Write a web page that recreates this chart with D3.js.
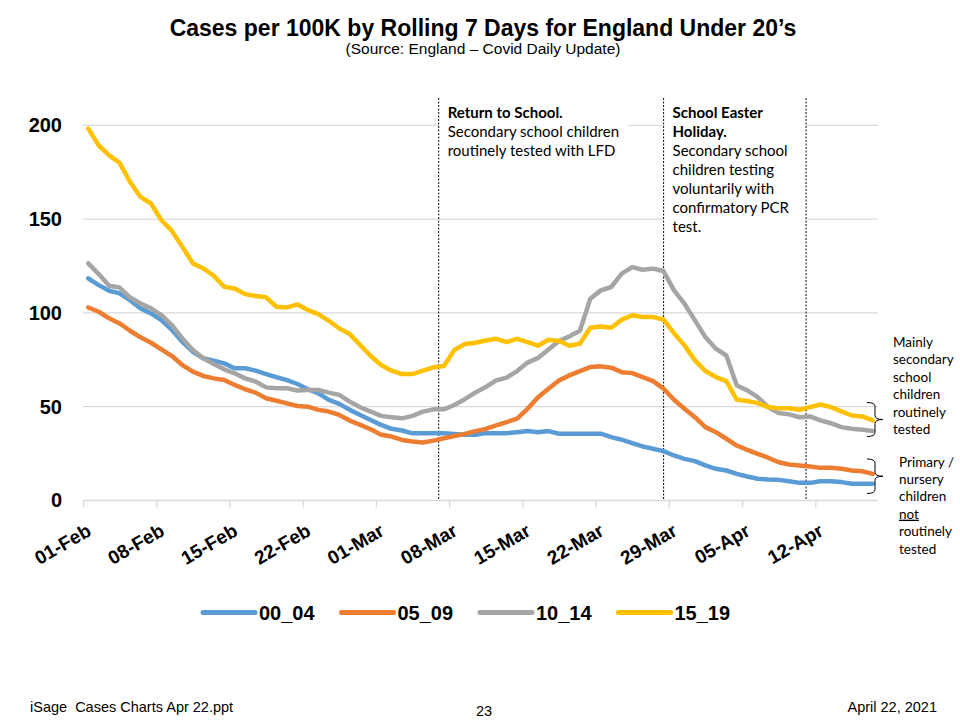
<!DOCTYPE html>
<html><head><meta charset="utf-8">
<script src="https://cdn.jsdelivr.net/npm/d3@7"></script>
<style>body{margin:0;background:#fff}svg{display:block}</style>
</head><body>
<svg id="chart" width="960" height="720"></svg>
<script>
// ---------- DATA ----------
const startDate = "2021-02-01";
const seriesNames = ["00_04", "05_09", "10_14", "15_19"];
const s00_04 = [118.4,114.8,111.8,110.4,106.8,102.4,99.7,96.2,90.9,84.6,79.3,75.8,74.5,73.1,70.5,70.5,69.2,67.4,65.7,64.2,62.1,59.3,57.1,53.6,51.5,48.3,45.6,42.9,40.3,38.2,37.3,35.8,35.8,35.8,35.8,35.5,35,35,35.9,35.9,35.9,36.4,37,36.4,37,35.6,35.6,35.6,35.6,35.6,33.8,32.4,30.6,28.8,27.6,26.3,24,22.2,21,18.7,16.9,16,14.2,12.8,11.6,11.2,11,10.3,9.4,9.4,10.3,10.3,9.8,8.9,8.9,8.9];
const s05_09 = [102.9,100.6,97.1,94.4,90.5,87,84.1,80.6,77,72.2,68.7,66.4,65.1,64.2,61.6,59.3,57.5,54.5,53.2,51.8,50.4,50,48.3,47.4,45.6,42.6,40.3,38,35,34.1,32.3,31.4,30.9,31.9,33.2,34.4,35.5,37,38.2,40,41.8,43.6,48.9,55.1,59.6,64,66.7,69,71.1,71.5,70.8,68.4,67.9,65.8,63.6,59.6,53.7,48.9,44.4,39.1,36.4,32.9,29.3,27,24.9,22.8,20.4,19.2,18.7,18.1,17.4,17.4,16.9,16,15.6,14.2];
const s10_14 = [126.4,120.7,114.5,113.5,108.2,105,102.4,98.8,93.5,86.4,80.2,75.8,72.8,69.9,67.8,65.1,63.4,60.3,59.8,59.8,58.6,58.9,58.9,57.5,56.3,52.7,49.7,47.4,45.1,44.4,43.8,45.1,47.4,48.6,48.6,50.9,54,57.5,60.5,64,65.5,69,73.5,76,80.5,85,87.5,90.5,107.6,112,113.8,120.9,124.4,123,123.6,122.3,112,104.9,96,87.1,80.9,77.3,61.3,58.7,55.1,49.8,46.6,45.9,44.4,44.8,42.7,41.2,39.1,38.2,37.7,37];
const s15_19 = [198.2,189.3,184,180,169.8,161.8,158.3,149.4,143.7,135.2,126.4,123.7,119.8,113.9,113,110,109,108.3,103.3,102.9,104.5,101.5,99.4,95.8,91.7,88.7,82.9,77,72.2,69.2,67.4,67.4,69.2,71,71.7,80.2,83.4,84.1,85.3,86.2,84.4,86.2,84.4,82.5,85.7,85,82.5,83.6,92.1,92.8,92.1,96.4,98.7,97.8,97.8,96.4,89.2,82.7,74.7,69,65.8,63.6,53.7,53,51.9,49.8,49.2,49.2,48.4,49.8,51.2,49.8,47.5,45.3,44.8,42.7];
const tickLabels = ["01-Feb","08-Feb","15-Feb","22-Feb","01-Mar","08-Mar","15-Mar","22-Mar","29-Mar","05-Apr","12-Apr"];
const yTicks = [0, 50, 100, 150, 200];
const eventDates = ["2021-03-07T00:00", "2021-03-28T12:00", "2021-04-11T03:00"];
const annot1 = ["Return to School.", "Secondary school children", "routinely tested with LFD"];
const annot2 = ["School Easter", "Holiday.", "Secondary school", "children testing", "voluntarily with", "confirmatory PCR", "test."];
const sideNote1 = ["Mainly", "secondary", "school", "children", "routinely", "tested"];
const sideNote2 = ["Primary /", "nursery", "children", "not", "routinely", "tested"];

// ---------- STYLE ----------
const colors = ["#5B9BD5", "#ED7D31", "#A5A5A5", "#FFC000"];
const series = [s00_04, s05_09, s10_14, s15_19];

const svg = d3.select("#chart");
const parse = d3.timeParse("%Y-%m-%d");
const parseT = d3.timeParse("%Y-%m-%dT%H:%M");
const t0 = parse(startDate);
const nDays = s00_04.length;
const dayAt = i => d3.timeHour.offset(d3.timeDay.offset(t0, i), 12);

const x = d3.scaleTime().domain([t0, d3.timeDay.offset(t0, nDays)]).range([83, 878]);
const y = d3.scaleLinear().domain([0, 200]).range([500.5, 125.3]);

// title
svg.append("text").attr("x", 483).attr("y", 36).attr("text-anchor", "middle")
  .style("font", "bold 23px 'Liberation Sans', Arial, sans-serif").text("Cases per 100K by Rolling 7 Days for England Under 20’s");
svg.append("text").attr("x", 483).attr("y", 54).attr("text-anchor", "middle")
  .style("font", "15.5px 'Liberation Sans', Arial, sans-serif").text("(Source: England – Covid Daily Update)");

// gridlines
svg.append("g").selectAll("line").data(yTicks.filter(v => v > 0)).join("line")
  .attr("x1", x.range()[0]).attr("x2", x.range()[1])
  .attr("y1", d => y(d)).attr("y2", d => y(d))
  .attr("stroke", "#d9d9d9").attr("stroke-width", 1.3);

// y axis labels
const yAxis = d3.axisLeft(y).tickValues(yTicks).tickSize(0).tickPadding(0);
const gy = svg.append("g").attr("transform", "translate(62,0)").call(yAxis);
gy.select(".domain").remove();
gy.selectAll("text").style("font", "bold 20px 'Liberation Sans', Arial, sans-serif").attr("fill", "#000");

// x axis
const tickDates = tickLabels.map((_, i) => d3.timeDay.offset(t0, i * 7));
const xAxis = d3.axisBottom(x).tickValues(tickDates).tickSize(7).tickFormat((d, i) => tickLabels[i]);
const gx = svg.append("g").attr("transform", "translate(0,500.5)").call(xAxis);
gx.select(".domain").attr("stroke", "#d9d9d9").attr("stroke-width", 1.3).attr("d", `M${x.range()[0]},0H${x.range()[1]}`);
gx.selectAll(".tick line").attr("stroke", "#d9d9d9").attr("stroke-width", 1.3);
gx.selectAll(".tick text")
  .style("font", "bold 19px 'Liberation Sans', Arial, sans-serif").attr("fill", "#000")
  .attr("text-anchor", "end").attr("y", 0).attr("dy", 0)
  .attr("transform", "translate(9,34) rotate(-30)");

// white annotation boxes
svg.append("rect").attr("x", x(parseT(eventDates[0]))).attr("y", 98).attr("width", 190).attr("height", 66).attr("fill", "#fff");
svg.append("rect").attr("x", x(parseT(eventDates[1]))).attr("y", 98).attr("width", x(parseT(eventDates[2])) - x(parseT(eventDates[1]))).attr("height", 143).attr("fill", "#fff");

// event lines
svg.append("g").selectAll("line").data(eventDates).join("line")
  .attr("x1", d => x(parseT(d))).attr("x2", d => x(parseT(d)))
  .attr("y1", 98).attr("y2", 500)
  .attr("stroke", "#222").attr("stroke-width", 1.1).attr("stroke-dasharray", "2,1.5");

// series lines
const line = d3.line().x((d, i) => x(dayAt(i))).y(d => y(d));
svg.append("g").selectAll("path").data(series).join("path")
  .attr("d", line).attr("fill", "none")
  .attr("stroke", (d, i) => colors[i]).attr("stroke-width", 4.5)
  .attr("stroke-linejoin", "round").attr("stroke-linecap", "round");

// annotations
const annFont = "15px Lato, 'Open Sans', sans-serif";
function block(lines, x0, y0, dy, boldCount, font) {
  const t = svg.append("text").style("font", font).attr("fill", "#000");
  lines.forEach((s, i) => {
    t.append("tspan").attr("x", x0).attr("y", y0 + i * dy).text(s)
      .style("font-weight", i < boldCount ? "bold" : "normal");
  });
  return t;
}
block(annot1, x(parseT(eventDates[0])) + 9, 117.5, 19, 1, annFont);
block(annot2, x(parseT(eventDates[1])) + 9, 117.5, 19, 2, annFont);
block(sideNote1, 893, 346.5, 17.5, 0, "13.5px Lato, 'Open Sans', sans-serif");
const sn2 = block(sideNote2, 899, 466.5, 17.4, 0, "13.5px Lato, 'Open Sans', sans-serif");
sn2.selectAll("tspan").filter((d, i) => i === 3).style("text-decoration", "underline");

// braces
function brace(x0, y0, y1) {
  const xm = x0 + 8, xt = x0 + 16, ym = (y0 + y1) / 2, r = 4;
  return `M${x0},${y0}Q${xm},${y0} ${xm},${y0 + r}L${xm},${ym - r}Q${xm},${ym} ${xt},${ym}Q${xm},${ym} ${xm},${ym + r}L${xm},${y1 - r}Q${xm},${y1} ${x0},${y1}`;
}
svg.append("path").attr("d", brace(867, 402.5, 436.5)).attr("fill", "none").attr("stroke", "#000").attr("stroke-width", 1);
svg.append("path").attr("d", brace(867, 459, 493.5)).attr("fill", "none").attr("stroke", "#000").attr("stroke-width", 1);

// legend
const lg = svg.append("g").selectAll("g").data(seriesNames).join("g")
  .attr("transform", (d, i) => `translate(${203 + i * 138.5},612.5)`);
lg.append("line").attr("x1", 0).attr("x2", 52).attr("y1", 0).attr("y2", 0)
  .attr("stroke", (d, i) => colors[i]).attr("stroke-width", 5).attr("stroke-linecap", "round");
lg.append("text").attr("x", 56).attr("y", 7).text(d => d)
  .style("font", "bold 20px 'Liberation Sans', Arial, sans-serif");

// footer
const ff = "14.5px 'Liberation Sans Narrow', 'Arial Narrow', sans-serif";
svg.append("text").attr("x", 30).attr("y", 712).style("font", ff).style("white-space", "pre").text("iSage  Cases Charts Apr 22.ppt");
svg.append("text").attr("x", 484).attr("y", 716).attr("text-anchor", "middle").style("font", ff).text("23");
svg.append("text").attr("x", 937).attr("y", 712).attr("text-anchor", "end").style("font", ff).text("April 22, 2021");
</script>
</body></html>
